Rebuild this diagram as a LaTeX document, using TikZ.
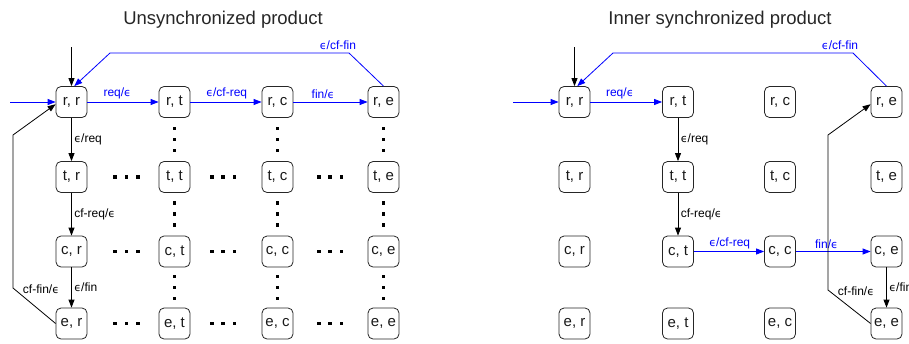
\documentclass[tikz,border=0pt]{standalone}
\usepackage{fontspec}
\setmainfont{Liberation Sans}
\newfontfamily\epsfont{DejaVu Sans}
\newcommand{\eps}{{\epsfont\addfontfeature{Scale=0.92}ϵ}}
\usetikzlibrary{arrows.meta}

\begin{document}
\begin{tikzpicture}[x=1pt,y=-1pt,
  state/.style={draw=black!85, rounded corners=5pt, line width=0.8pt,
    minimum width=31pt, minimum height=31pt, inner sep=0pt,
    font=\fontsize{15}{15}\selectfont, text=black!90},
  trans/.style={line width=0.8pt, -{Triangle[length=8pt,width=6pt]}},
  elab/.style={font=\fontsize{12}{12}\selectfont, inner sep=2.5pt},
  title/.style={font=\fontsize{18.5}{18.5}\selectfont, anchor=base, text=black!85},
  dotsq/.style={fill=black}
]
\useasboundingbox (0,0) rectangle (909,343);

% titles
\node[title] (tL) at (223,24) {Unsynchronized product};
\node[title] (tR) at (720,24) {Inner synchronized product};

% state grids
\foreach \r/\y in {r/102, t/177, c/251.5, e/323.5}{
  \foreach \c/\x in {r/71.5, t/174.5, c/277.5, e/383.5}
    \node[state] (L\r\c) at (\x,\y) {\r, \c};
  \foreach \c/\x in {r/574.5, t/678, c/780, e/886.5}
    \node[state] (R\r\c) at (\x,\y) {\r, \c};
}

% ellipsis squares in the unsynchronized grid
\foreach \x in {174.5, 277.5, 383.5}
  \foreach \m in {139.5, 214, 287.5}
    \foreach \d in {-11, 0, 11}
      \fill[dotsq] ({\x-1.8},{\m+(\d)-1.8}) rectangle +(3.6,3.6);
\foreach \y in {177, 251.5, 323.5}
  \foreach \m in {126.5, 223, 330}
    \foreach \d in {-11.3, 0, 11.3}
      \fill[dotsq] ({\m+(\d)-1.8},{\y-1.8}) rectangle +(3.6,3.6);

% ---------- unsynchronized product ----------
\coordinate (Lin1) at (10,102);
\coordinate (Lin2) at (71.5,47);
\coordinate (Lb1) at (349,53);
\coordinate (Lb2) at (110,53);
\coordinate (Lb3) at (13,288);
\coordinate (Lb4) at (13,135);

\draw[trans,blue] (Lin1) -- (Lrr.west);
\draw[trans] (Lin2) -- (Lrr.north);
\draw[trans,blue] (Lrr) -- node[elab,above,pos=0.42] {req/\eps} (Lrt);
\draw[trans,blue] (Lrt) -- node[elab,above,pos=0.51] {\eps/cf-req} (Lrc);
\draw[trans,blue] (Lrc) -- node[elab,above,pos=0.40] {fin/\eps} (Lre);
\draw[trans,blue] (Lre.north) -- (Lb1)
  -- node[elab,above,pos=0.046] {\eps/cf-fin} (Lb2) -- (Lrr.80);
\draw[trans] (Lrr) -- node[elab,right] {\eps/req} (Ltr);
\draw[trans] (Ltr) -- node[elab,right] {cf-req/\eps} (Lcr);
\draw[trans] (Lcr) -- node[elab,right] {\eps/fin} (Ler);
\draw[trans] (Ler.west)
  -- node[elab,pos=0.8,anchor=south west,inner sep=1pt] {cf-fin/\eps} (Lb3)
  -- (Lb4) -- (Lrr.188);

% ---------- inner synchronized product ----------
\coordinate (Rin1) at (513,102);
\coordinate (Rin2) at (574.5,47);
\coordinate (Rb1) at (853,53);
\coordinate (Rb2) at (613,53);
\coordinate (Rb3) at (828,290);
\coordinate (Rb4) at (828,135);

\draw[trans,blue] (Rin1) -- (Rrr.west);
\draw[trans] (Rin2) -- (Rrr.north);
\draw[trans,blue] (Rrr) -- node[elab,above,pos=0.41] {req/\eps} (Rrt);
\draw[trans] (Rrt) -- node[elab,right] {\eps/req} (Rtt);
\draw[trans] (Rtt) -- node[elab,right] {cf-req/\eps} (Rct);
\draw[trans,blue] (Rct) -- node[elab,above,pos=0.51] {\eps/cf-req} (Rcc);
\draw[trans,blue] (Rcc) -- node[elab,above,pos=0.41] {fin/\eps} (Rce);
\draw[trans] (Rce) -- node[elab,right] {\eps/fin} (Ree);
\draw[trans] (Ree.west)
  -- node[elab,pos=0.8,anchor=south west,inner sep=1pt] {cf-fin/\eps} (Rb3)
  -- (Rb4) -- (Rre.188);
\draw[trans,blue] (Rre.north) -- (Rb1)
  -- node[elab,above,pos=0.054] {\eps/cf-fin} (Rb2) -- (Rrr.80);
\end{tikzpicture}
\end{document}
